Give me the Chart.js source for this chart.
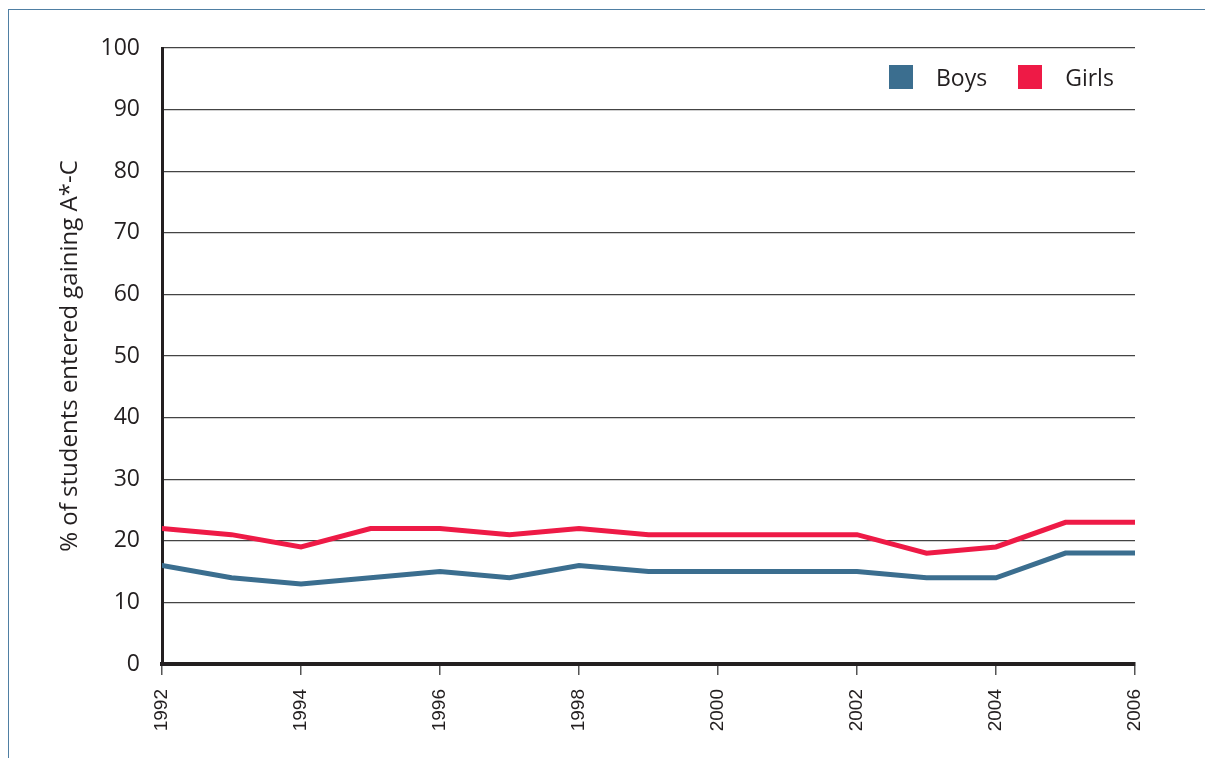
<!DOCTYPE html>
<html>
<head>
<meta charset="utf-8">
<script src="https://cdn.jsdelivr.net/npm/chart.js@4.4.1/dist/chart.umd.min.js"></script>
<style>
  body { margin: 0; background: #fff; }
  #wrap { position: relative; width: 1205px; height: 758px; overflow: hidden; }
  #frame { position: absolute; left: 8px; top: 9px; right: -5px; bottom: -5px;
           border-top: 1.5px solid #4f7fa3; border-left: 1.5px solid #4f7fa3; }
  #legend { position: absolute; left: 889px; top: 65px; display: flex; align-items: center;
            font-family: "Open Sans", sans-serif; font-size: 23px; color: #231f20; }
  .item { display: flex; align-items: center; margin-right: 31px; }
  .box { width: 24px; height: 24px; margin-right: 23px; }
  .lbl { position: relative; top: 0; line-height: 24px; }
  canvas { position: absolute; left: 0; top: 0; }
</style>
</head>
<body>
<div id="wrap">
  <div id="frame"></div>
  <canvas id="chart" width="1205" height="758"></canvas>
  <div id="legend"></div>
</div>
<script>
  // values
  const years = [1992, 1993, 1994, 1995, 1996, 1997, 1998, 1999, 2000, 2001, 2002, 2003, 2004, 2005, 2006];
  const boys  = [16, 14, 13, 14, 15, 14, 16, 15, 15, 15, 15, 14, 14, 18, 18];
  const girls = [22, 21, 19, 22, 22, 21, 22, 21, 21, 21, 21, 18, 19, 23, 23];
  const seriesNames = ["Boys", "Girls"];
  const seriesColors = ["#3b6e8f", "#ee1a46"];

  const ink = "#231f20";

  // html legend built from the datasets
  const htmlLegend = {
    id: "htmlLegend",
    afterUpdate(chart) {
      const el = document.getElementById("legend");
      el.innerHTML = "";
      chart.data.datasets.forEach(function (ds) {
        const item = document.createElement("div");
        item.className = "item";
        const box = document.createElement("span");
        box.className = "box";
        box.style.background = ds.borderColor;
        const txt = document.createElement("span");
        txt.className = "lbl";
        txt.textContent = ds.label;
        item.appendChild(box);
        item.appendChild(txt);
        el.appendChild(item);
      });
    }
  };

  function toPoints(values) {
    return values.map((v, i) => ({ x: years[i], y: v }));
  }

  new Chart(document.getElementById("chart"), {
    type: "line",
    data: {
      datasets: [boys, girls].map((vals, i) => ({
        label: seriesNames[i],
        data: toPoints(vals),
        borderColor: seriesColors[i],
        backgroundColor: seriesColors[i],
        borderWidth: 5,
        borderCapStyle: "round",
        pointRadius: 0,
        tension: 0
      }))
    },
    options: {
      responsive: false,
      animation: false,
      layout: { padding: { left: 56, right: 70, top: 48, bottom: 0 } },
      plugins: {
        legend: { display: false },
        tooltip: { enabled: false }
      },
      scales: {
        x: {
          type: "linear",
          min: 1992,
          max: 2006,
          afterFit: (s) => { s.height = 94; },
          border: { color: ink, width: 4 },
          grid: { drawOnChartArea: false, drawTicks: true, tickLength: 11, color: "#555", lineWidth: 1.5 },
          ticks: {
            stepSize: 2,
            minRotation: 90,
            maxRotation: 90,
            padding: 14,
            color: ink,
            font: { family: "'Liberation Sans', Arial, sans-serif", size: 19 },
            callback: (v) => String(v)
          }
        },
        y: {
          min: 0,
          max: 100,
          afterFit: (s) => { s.width = 106; },
          border: { color: ink, width: 3 },
          grid: { drawTicks: false, color: "#444", lineWidth: 1.2 },
          ticks: {
            stepSize: 10,
            padding: 22,
            color: ink,
            font: { family: "'Open Sans', sans-serif", size: 23 }
          },
          title: {
            display: true,
            text: "% of students entered gaining A*-C",
            color: ink,
            padding: { top: 0, bottom: 0 },
            font: { family: "'Open Sans', sans-serif", size: 24 }
          }
        }
      }
    },
    plugins: [htmlLegend]
  });
</script>
</body>
</html>
